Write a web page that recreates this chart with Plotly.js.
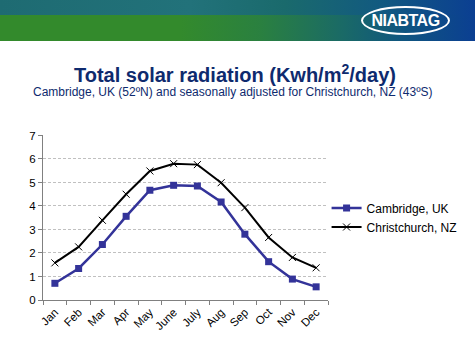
<!DOCTYPE html>
<html><head><meta charset="utf-8">
<script src="https://cdn.plot.ly/plotly-3.0.1.min.js"></script>
<style>
html,body{margin:0;padding:0;background:#fff;}
#wrap{position:relative;width:475px;height:359px;overflow:hidden;}
#hdr{position:absolute;left:0;top:0;width:475px;height:41px;
background:linear-gradient(90deg,#338a2c 0%,#338a2c 38%,#2a8040 55%,#1a6a66 72%,#0f5580 85%,#0b3f92 100%);}
#hdrtop{position:absolute;left:0;top:0;width:475px;height:15px;
background:linear-gradient(90deg,#1e6b72 0%,#22727a 40%,#1a6a6c 60%,#125a80 80%,#0b3f92 100%);}
#logo{position:absolute;left:361px;top:6px;width:89px;height:29px;border:2px solid #fff;border-radius:50%;
box-sizing:border-box;color:#fff;font:bold 16px "Liberation Sans",Arial,sans-serif;text-align:center;line-height:25px;letter-spacing:-0.5px;}
#plot{position:absolute;left:0;top:0;}
</style></head>
<body><div id="wrap"><div id="hdr"></div><div id="hdrtop"></div><div id="logo">NIABTAG</div><div id="plot"></div></div>
<script>
const months = ["Jan","Feb","Mar","Apr","May","June","July","Aug","Sep","Oct","Nov","Dec"];
const cambridge = [0.71,1.34,2.36,3.56,4.67,4.88,4.85,4.17,2.80,1.63,0.89,0.56];
const christchurch = [1.58,2.26,3.39,4.50,5.49,5.80,5.76,4.99,3.93,2.66,1.81,1.37];

const traces = [
 {x:months,y:cambridge,name:"Cambridge, UK",type:"scatter",mode:"lines+markers",
  line:{color:"#333399",width:2.5},marker:{symbol:"square",size:7,color:"#333399"}},
 {x:months,y:christchurch,name:"Christchurch, NZ",type:"scatter",mode:"lines+markers",
  line:{color:"#000000",width:2},marker:{symbol:"x-thin",size:7,color:"#000",line:{width:1,color:"#000"}}}
];
const layout = {
 width:475,height:359,margin:{l:43,r:147,t:135,b:59},
 paper_bgcolor:"rgba(0,0,0,0)",plot_bgcolor:"rgba(0,0,0,0)",
 font:{family:"Liberation Sans, Arial, sans-serif",color:"#000",size:11},
 showlegend:true,
 legend:{x:0.995,y:0.5,yanchor:"middle",xanchor:"left",font:{size:12},tracegroupgap:2,itemwidth:30,bgcolor:"rgba(0,0,0,0)"},
 xaxis:{type:"category",range:[-0.5,11.5],tickangle:-45,showline:true,linecolor:"#808080",linewidth:1,
  ticks:"outside",tickson:"boundaries",ticklen:4,tickcolor:"#808080",showgrid:false,tickfont:{size:11.5}},
 yaxis:{range:[0,7.02],tickvals:[0,1,2,3,4,5,6,7],showline:true,linecolor:"#808080",ticks:"outside",ticklen:4,tickcolor:"#808080",
  showgrid:true,gridcolor:"#c0c0c0",griddash:"3px,2px",gridwidth:1,zeroline:false,tickfont:{size:11.5}},
 annotations:[
  {text:"<b>Total solar radiation (Kwh/m<sup>2</sup>/day)</b>",xref:"paper",yref:"paper",x:(235-43)/285,y:(359-59-73)/165,
   xanchor:"center",yanchor:"middle",showarrow:false,font:{size:20,color:"#0e2a6e"}},
  {text:"Cambridge, UK (52ºN) and seasonally adjusted for Christchurch, NZ (43ºS)",xref:"paper",yref:"paper",x:(233-43)/285,y:(359-59-92)/165,
   xanchor:"center",yanchor:"middle",showarrow:false,font:{size:12,color:"#0e2a6e"}}
 ]
};
Plotly.newPlot("plot",traces,layout,{displayModeBar:false,staticPlot:true});
</script></body></html>
